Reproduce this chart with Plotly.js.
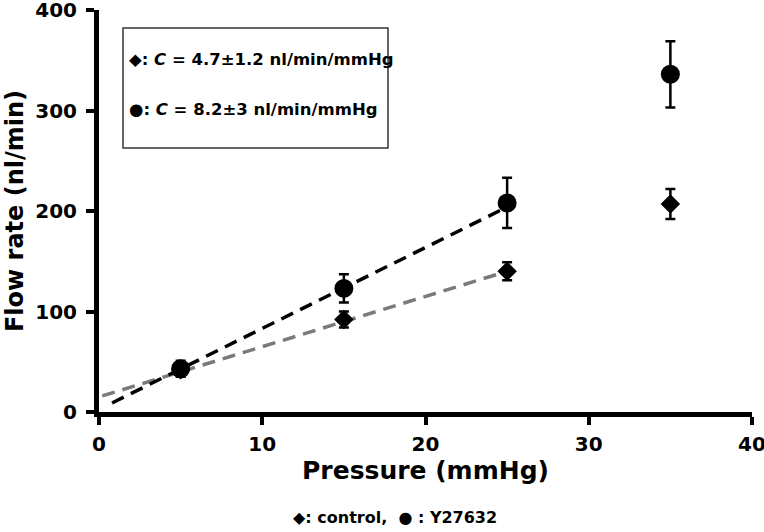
<!DOCTYPE html>
<html>
<head>
<meta charset="utf-8">
<script src="https://cdn.plot.ly/plotly-3.0.1.min.js"></script>
<style>html,body{margin:0;padding:0;background:#fff;}#chart{width:764px;height:532px;}</style>
</head>
<body>
<div id="chart"></div>
<script>
// Data
const pressure = [5, 15, 25, 35];
const controlFlow = [42, 92, 140, 207];
const controlErr = [6, 8, 9, 15];
const y27Flow = [43, 123, 208, 336];
const y27Err = [8, 14, 25, 33];
// Linear fit lines (endpoints)
const fitControlX = [0.2, 25];
const fitControlY = [16, 140];
const fitY27X = [0.8, 25];
const fitY27Y = [9, 204];
const xTicks = [0, 10, 20, 30, 40];
const yTicks = [0, 100, 200, 300, 400];
const legendLines = ["◆: <i>C</i> = 4.7±1.2 nl/min/mmHg", "●: <i>C</i> = 8.2±3 nl/min/mmHg"];
const bottomNote = "◆: control,  ● : Y27632";

const F = "'DejaVu Sans', Arial, sans-serif";

const traces = [
  {x: fitControlX, y: fitControlY, mode: 'lines', line: {color: '#7a7a7a', width: 3.5, dash: '13px,8px'}, hoverinfo: 'skip'},
  {x: fitY27X, y: fitY27Y, mode: 'lines', line: {color: '#000', width: 3.5, dash: '13px,8px'}, hoverinfo: 'skip'},
  {x: pressure, y: controlFlow, mode: 'markers', marker: {symbol: 'diamond', size: 15, color: '#000'},
   error_y: {type: 'data', array: controlErr, visible: true, color: '#000', thickness: 2.5, width: 5}},
  {x: pressure, y: y27Flow, mode: 'markers', marker: {symbol: 'circle', size: 19, color: '#000'},
   error_y: {type: 'data', array: y27Err, visible: true, color: '#000', thickness: 2.5, width: 5}}
];

const layout = {
  width: 764, height: 532,
  margin: {l: 99, r: 12, t: 10, b: 120},
  showlegend: false,
  paper_bgcolor: '#fff', plot_bgcolor: '#fff',
  font: {family: F, color: '#000'},
  xaxis: {
    range: [0, 40], tickvals: xTicks, ticktext: xTicks.map(v => '<b>' + v + '</b>'),
    showgrid: false, zeroline: false, showline: true, linewidth: 5, linecolor: '#000',
    ticks: 'outside', ticklen: 8, tickwidth: 4, tickcolor: '#000',
    ticklabeloverflow: 'allow', ticklabelstandoff: 2,
    tickfont: {family: F, size: 20, color: '#000'},
    title: {text: '<b>Pressure (mmHg)</b>', font: {family: F, size: 25, color: '#000'}, standoff: 3}
  },
  yaxis: {
    range: [0, 400], tickvals: yTicks, ticktext: yTicks.map(v => '<b>' + v + '</b>'),
    showgrid: false, zeroline: false, showline: true, linewidth: 5, linecolor: '#000',
    ticks: 'outside', ticklen: 8, tickwidth: 4, tickcolor: '#000',
    ticklabeloverflow: 'allow', ticklabelstandoff: 5,
    tickfont: {family: F, size: 20, color: '#000'},
    title: {text: '<b>Flow rate (nl/min)</b>', font: {family: F, size: 24, color: '#000'}, standoff: 6}
  },
  shapes: [
    {type: 'rect', xref: 'paper', yref: 'paper', x0: (123 - 99) / 653, x1: (388 - 99) / 653,
     y0: (412 - 148) / 402, y1: (412 - 28) / 402, line: {color: '#333', width: 1.5}, fillcolor: 'rgba(0,0,0,0)'}
  ],
  annotations: [
    {xref: 'paper', yref: 'paper', x: (127 - 99) / 653, y: (412 - 60) / 402, xanchor: 'left', yanchor: 'middle',
     text: '<b>' + legendLines[0] + '</b>', showarrow: false, font: {family: F, size: 16.5, color: '#000'}},
    {xref: 'paper', yref: 'paper', x: (127 - 99) / 653, y: (412 - 110) / 402, xanchor: 'left', yanchor: 'middle',
     text: '<b>' + legendLines[1] + '</b>', showarrow: false, font: {family: F, size: 16.5, color: '#000'}},
    {xref: 'paper', yref: 'paper', x: (395 - 99) / 653, y: (412 - 517) / 402, xanchor: 'center', yanchor: 'middle',
     text: '<b>' + bottomNote + '</b>', showarrow: false, font: {family: F, size: 16, color: '#000'}}
  ]
};

Plotly.newPlot('chart', traces, layout, {displayModeBar: false, staticPlot: true});
</script>
</body>
</html>
